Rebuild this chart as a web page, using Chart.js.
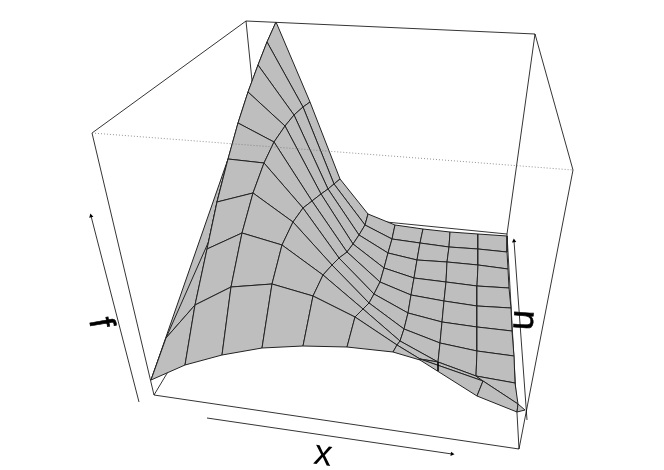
<!DOCTYPE html>
<html>
<head>
<meta charset="utf-8">
<title>Surface f(x, u)</title>
<script src="https://cdn.jsdelivr.net/npm/chart.js@4"></script>
<style>
    html, body { margin: 0; padding: 0; background: #fff; }
    canvas { display: block; }
</style>
</head>
<body>
<canvas id="surfaceChart" width="664" height="470"></canvas>
<script>
// Mesh vertices, one row per line of the net (back to front)
const meshX = [
    [276, 276, 310, 340, 368, 395, 423, 450, 478, 507],
    [271, 267, 303, 334, 365, 392, 420, 449, 478, 507],
    [262, 258, 294, 328, 359, 388, 417, 447, 478, 508],
    [253, 248, 285, 321, 353, 384, 414, 446, 477, 509],
    [243, 238, 274, 312, 347, 380, 411, 444, 477, 511],
    [234, 228, 264, 303, 339, 374, 408, 442, 477, 512],
    [224, 217, 253, 293, 332, 369, 404, 440, 477, 514],
    [212, 207, 242, 282, 323, 363, 400, 438, 476, 515],
    [166, 195, 231, 272, 313, 355, 397, 420, 483, 518],
    [151, 185, 222, 262, 303, 347, 393, 420, 477, 517]
];
const meshY = [
    [24, 22, 102, 179, 214, 225, 229, 232, 234, 236],
    [50, 42, 107, 184, 225, 239, 243, 247, 249, 252],
    [72, 65, 115, 189, 235, 253, 260, 262, 265, 269],
    [100, 92, 126, 194, 244, 268, 278, 282, 286, 288],
    [130, 123, 142, 201, 252, 282, 295, 301, 306, 308],
    [165, 159, 163, 208, 258, 294, 313, 322, 327, 331],
    [206, 202, 193, 222, 265, 303, 329, 343, 351, 356],
    [234, 249, 233, 245, 275, 309, 341, 362, 376, 383],
    [338, 305, 287, 284, 296, 317, 345, 359, 381, 404],
    [380, 365, 355, 348, 346, 347, 352, 360, 396, 412]
];

// Folded pieces of the surface that do not fall on the net
const foldX = [151, 228, 217, 207, 195, 166];
const foldY = [380, 159, 202, 249, 305, 338];
const tipX = [518, 525, 517];
const tipY = [404, 410, 412];
const stubX = [438, 438];
const stubY = [362, 371];

// Box around the surface
const boxLinesX = [
    [154, 519], [154, 265], [265, 507], [519, 507],
    [92, 154], [573, 519], [246, 265], [535, 507],
    [92, 246], [246, 535], [535, 573]
];
const boxLinesY = [
    [395, 449], [395, 210], [210, 234], [449, 234],
    [133, 395], [170, 449], [21, 210], [34, 234],
    [133, 21], [21, 34], [34, 170]
];
const dottedX = [92, 573];
const dottedY = [133, 170];

// Axis arrows, tail then head
const arrowsX = [[207, 452], [139, 91], [527, 514]];
const arrowsY = [[418, 454], [402, 216], [420, 241]];
const arrowAngles = [98, -14, -4];

const axisLabels = ['x', 'f', 'u'];

function toPoints(xs, ys) {
    return xs.map((x, i) => ({ x: x, y: ys[i] }));
}

function lineSet(xs, ys) {
    return {
        data: toPoints(xs, ys),
        showLine: true,
        fill: false,
        borderColor: '#000',
        borderWidth: 0.8,
        pointRadius: 0,
        tension: 0
    };
}

function facetSet(xs, ys) {
    const set = lineSet(xs.concat(xs[0]), ys.concat(ys[0]));
    set.fill = 'shape';
    set.backgroundColor = '#bebebe';
    set.borderWidth = 1;
    set.borderColor = '#222';
    return set;
}

// Painter's order: first pushed is drawn first
const layers = [];

boxLinesX.forEach((xs, i) => layers.push(lineSet(xs, boxLinesY[i])));

layers.push(facetSet(foldX, foldY));
for (let c = 0; c < meshX[0].length - 1; c++) {
    for (let r = 0; r < meshX.length - 1; r++) {
        layers.push(facetSet(
            [meshX[r][c], meshX[r][c + 1], meshX[r + 1][c + 1], meshX[r + 1][c]],
            [meshY[r][c], meshY[r][c + 1], meshY[r + 1][c + 1], meshY[r + 1][c]]
        ));
    }
}
layers.push(facetSet(tipX, tipY));
layers.push(lineSet(stubX, stubY));

// Dotted front edge lies over the surface
const dotted = lineSet(dottedX, dottedY);
dotted.borderDash = [1, 2];
dotted.borderColor = '#777';
layers.push(dotted);

arrowsX.forEach((xs, i) => {
    const arrow = lineSet(xs, arrowsY[i]);
    arrow.pointStyle = 'triangle';
    arrow.pointRadius = [0, 2.5];
    arrow.pointBackgroundColor = '#000';
    arrow.pointBorderWidth = 0;
    arrow.pointRotation = arrowAngles[i];
    layers.push(arrow);
});

layers.forEach((set, i) => { set.order = layers.length - i; });

// Axis names are rotated with the box
const axisTitles = {
    id: 'axisTitles',
    afterDraw(chart) {
        const { ctx, scales } = chart;
        const spots = [
            { x: 323, y: 455, angle: 8, heavy: 0 },
            { x: 100, y: 323, angle: 80, heavy: 0.6 },
            { x: 523, y: 320, angle: -86, heavy: 0.6 }
        ];
        ctx.save();
        ctx.fillStyle = '#000';
        ctx.strokeStyle = '#000';
        ctx.font = '36px "Liberation Sans"';
        ctx.textAlign = 'center';
        ctx.textBaseline = 'middle';
        spots.forEach((s, i) => {
            ctx.save();
            ctx.translate(scales.x.getPixelForValue(s.x), scales.y.getPixelForValue(s.y));
            ctx.rotate(s.angle * Math.PI / 180);
            ctx.fillText(axisLabels[i], 0, 0);
            if (s.heavy) {
                ctx.lineWidth = s.heavy;
                ctx.strokeText(axisLabels[i], 0, 0);
            }
            ctx.restore();
        });
        ctx.restore();
    }
};

new Chart(document.getElementById('surfaceChart').getContext('2d'), {
    type: 'scatter',
    data: { datasets: layers },
    plugins: [axisTitles],
    options: {
        responsive: false,
        animation: false,
        clip: false,
        layout: { padding: 0, autoPadding: false },
        plugins: {
            legend: { display: false },
            tooltip: { enabled: false }
        },
        scales: {
            x: { type: 'linear', min: 0, max: 664, display: false },
            y: { type: 'linear', min: 0, max: 470, reverse: true, display: false }
        }
    }
});
</script>
</body>
</html>
